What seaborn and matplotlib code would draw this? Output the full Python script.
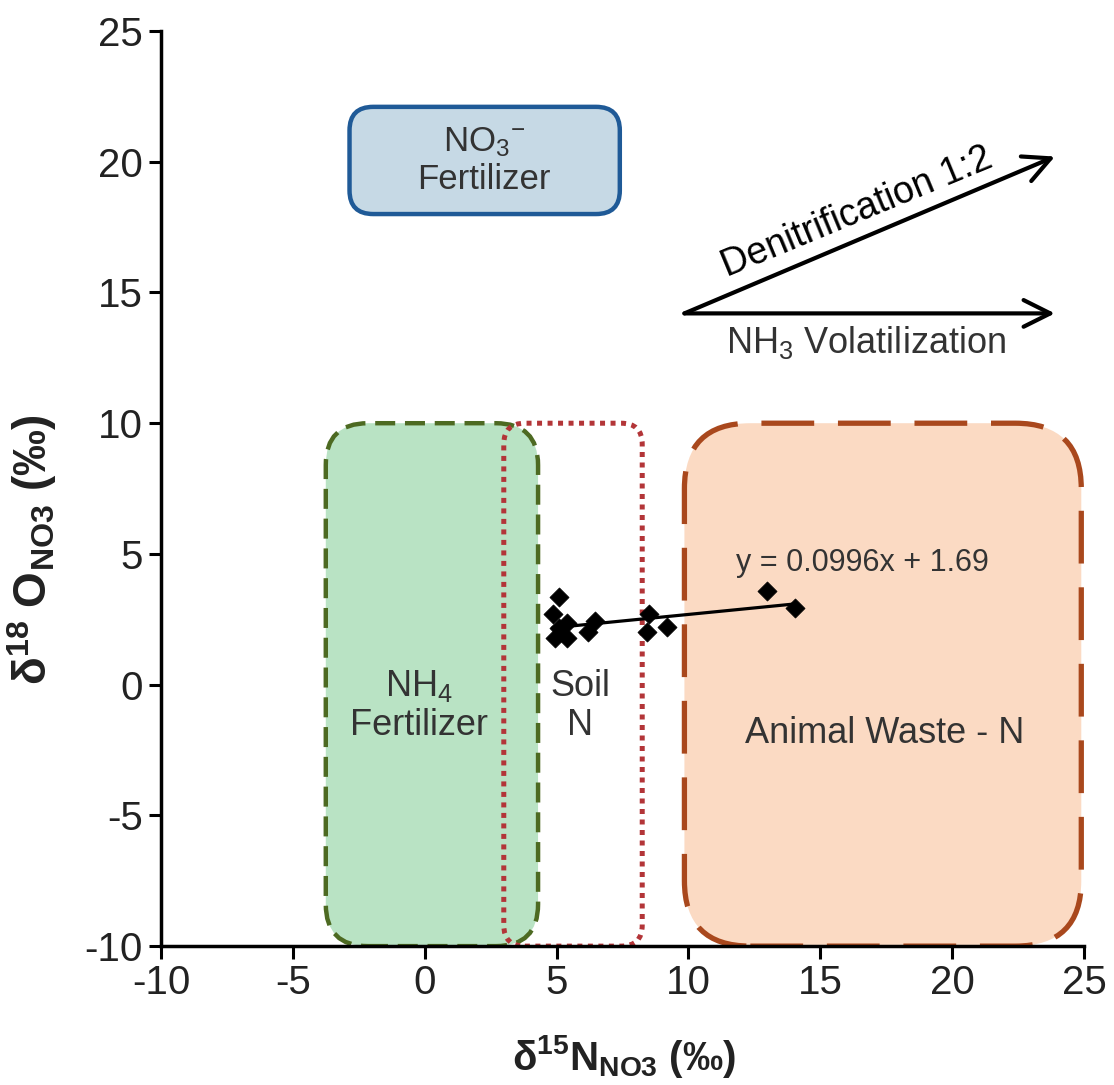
import numpy as np
import pandas as pd
import seaborn as sns
import matplotlib.pyplot as plt
from matplotlib.patches import FancyBboxPatch

# sample data: d15N and d18O of nitrate
d15n = [5.1, 4.85, 4.95, 5.4, 5.4, 5.1, 6.45, 6.2, 8.5, 8.45, 9.2, 13.0, 14.05]
d18o = [3.35, 2.7, 1.8, 2.35, 1.8, 2.15, 2.45, 2.0, 2.7, 2.0, 2.2, 3.6, 2.95]

# linear fit shown on the chart
slope = 0.0996
intercept = 1.69

# source boxes: (x0, x1, y0, y1)
nh4_box = (-3.75, 4.3, -10, 10)
soil_box = (3.0, 8.25, -10, 10)
animal_box = (9.85, 24.9, -10, 10)
no3_box = (-2.85, 7.4, 18.0, 22.1)

# process arrows: start, end
arrow_start = (9.85, 14.2)
denit_end = (23.9, 20.2)
volat_end = (23.9, 14.2)

sns.set_theme(style="ticks")
plt.rcParams['font.family'] = ['Liberation Sans', 'DejaVu Sans']
plt.rcParams['mathtext.fontset'] = 'custom'
plt.rcParams['mathtext.rm'] = 'Liberation Sans'
plt.rcParams['mathtext.bf'] = 'Liberation Sans:bold'
plt.rcParams['mathtext.it'] = 'Liberation Sans'
plt.rcParams['axes.unicode_minus'] = False

fig = plt.figure(figsize=(11.14, 10.85), dpi=100)
ax = fig.add_axes([0.1445, 0.128, 0.8285, 0.8434])


def box(ext, fc, ec, ls, lw, r, z):
    x0, x1, y0, y1 = ext
    p = FancyBboxPatch((x0, y0), x1 - x0, y1 - y0,
                       boxstyle=f"round,pad=0,rounding_size={r}",
                       fc=fc, ec=ec, ls=ls, lw=lw, zorder=z)
    ax.add_patch(p)


box(nh4_box, '#b9e3c4', '#4d6a22', (0, (4.5, 2.2)), 3.2, 1.6, 1)
box(soil_box, 'none', '#b33538', (0, (1, 1.1)), 3.6, 0.8, 2)
box(animal_box, '#fbdac3', '#a9481d', (0, (10, 4.5)), 3.8, 2.5, 1)
box(no3_box, '#c6d9e5', '#1f5a97', '-', 3.2, 0.9, 1)

df = pd.DataFrame({'d15N': d15n, 'd18O': d18o})
sns.scatterplot(data=df, x='d15N', y='d18O', marker='D', color='black',
                s=95, edgecolor='black', linewidth=0.5, zorder=5, ax=ax)

fit_x = np.array([min(d15n), max(d15n)])
sns.lineplot(x=fit_x, y=slope * fit_x + intercept, color='black', lw=2.3,
             zorder=4, ax=ax)

for end in (denit_end, volat_end):
    ax.annotate('', xy=end, xytext=arrow_start,
                arrowprops=dict(arrowstyle='->,head_length=1.6,head_width=0.8',
                                lw=3, color='black', shrinkA=0, shrinkB=0))

tc = '#333333'
ax.text(2.25, 20.05, 'NO$_3$$^{-}$\nFertilizer', ha='center', va='center',
        fontsize=25, color=tc, linespacing=1.15)
ax.text(-0.2, -0.8, 'NH$_4$\nFertilizer', ha='center', va='center',
        fontsize=26, color=tc, linespacing=1.15)
ax.text(5.9, -0.8, 'Soil\nN', ha='center', va='center',
        fontsize=26, color=tc, linespacing=1.15)
ax.text(17.45, -1.85, 'Animal Waste - N', ha='center', va='center',
        fontsize=26, color=tc)
ax.text(16.6, 4.65, 'y = 0.0996x + 1.69', ha='center', va='center',
        fontsize=22, color=tc)
ax.text(16.4, 18.05, 'Denitrification 1:2', ha='center', va='center',
        fontsize=27, color='black', rotation=22.5, rotation_mode='anchor')
ax.text(16.75, 13.1, 'NH$_3$ Volatilization', ha='center', va='center',
        fontsize=26, color=tc)

ax.set_xlim(-10, 25)
ax.set_ylim(-10, 25)
ax.set_xticks(range(-10, 26, 5))
ax.set_yticks(range(-10, 26, 5))
ax.tick_params(labelsize=29, length=9, width=2.2, direction='out',
               colors='black', pad=4)
for lbl in ax.get_xticklabels() + ax.get_yticklabels():
    lbl.set_color('#222222')
sns.despine(ax=ax)
for sp in ('left', 'bottom'):
    ax.spines[sp].set_linewidth(2.5)
    ax.spines[sp].set_color('black')

ax.set_xlabel('δ$^{\\mathbf{15}}$N$_{\\mathbf{NO3}}$ (‰)', fontsize=29,
              fontweight='bold', color='#222222')
ax.set_ylabel('δ$^{\\mathbf{18}}$ O$_{\\mathbf{NO3}}$ (‰)', fontsize=33,
              fontweight='bold', color='#222222')
ax.xaxis.set_label_coords(0.502, -0.095)
ax.yaxis.set_label_coords(-0.11, 0.433)

fig.savefig('out.png', dpi=100)
